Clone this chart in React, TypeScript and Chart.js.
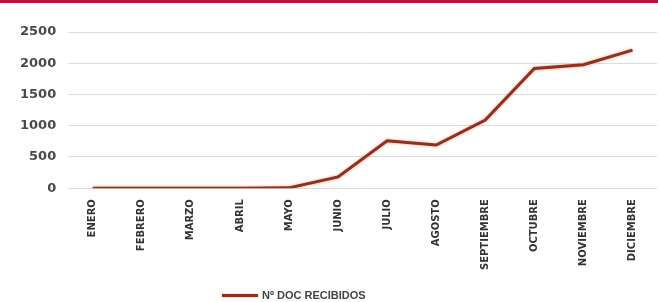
import React, { useEffect, useRef } from "react";
import { Chart, registerables } from "chart.js";

Chart.register(...registerables);

const months = [
  "ENERO", "FEBRERO", "MARZO", "ABRIL", "MAYO", "JUNIO",
  "JULIO", "AGOSTO", "SEPTIEMBRE", "OCTUBRE", "NOVIEMBRE", "DICIEMBRE",
];
const docsRecibidos = [0, 0, 0, 0, 5, 180, 760, 690, 1090, 1915, 1975, 2210];
const seriesName = "Nº DOC RECIBIDOS";
const yTicks = [0, 500, 1000, 1500, 2000, 2500];

const LINE = "#8f3020";

const haloPlugin = {
  id: "halo",
  beforeDatasetDraw(chart: any) {
    const ctx = chart.ctx;
    ctx.save();
    ctx.shadowColor = "rgba(235,130,80,0.75)";
    ctx.shadowBlur = 3;
  },
  afterDatasetDraw(chart: any) {
    chart.ctx.restore();
  },
};

export default function App() {
  const ref = useRef<HTMLCanvasElement | null>(null);
  useEffect(() => {
    document.body.style.margin = "0";
    const canvas = ref.current;
    if (!canvas) return;
    const chart = new Chart(canvas, {
      type: "line",
      data: {
        labels: months,
        datasets: [
          {
            label: seriesName,
            data: docsRecibidos,
            borderColor: LINE,
            backgroundColor: LINE,
            borderWidth: 3,
            pointRadius: 0,
            tension: 0,
          },
        ],
      },
      plugins: [haloPlugin],
      options: {
        animation: false,
        responsive: false,
        maintainAspectRatio: false,
        layout: { padding: { left: 8, right: 1, top: 29, bottom: 29 } },
        plugins: {
          tooltip: { enabled: false },
          legend: { display: false },
        },
        scales: {
          x: {
            offset: true,
            grid: { display: false },
            border: { display: false },
            ticks: {
              minRotation: 90,
              maxRotation: 90,
              padding: 3,
              color: "#333",
              font: { family: "DejaVu Sans", size: 10, weight: "bold" },
            },
          },
          y: {
            min: 0,
            max: 2500,
            afterBuildTicks: (axis: any) => {
              axis.ticks = yTicks.map((v) => ({ value: v }));
            },
            grid: { color: "#dcdcdc", lineWidth: 1, drawTicks: false },
            border: { display: false },
            ticks: {
              padding: 12,
              color: "#4a4a4a",
              callback: (v: any) => String(v),
              font: { family: "DejaVu Sans", size: 13, weight: "bold" },
            },
          },
        },
      },
    });
    return () => chart.destroy();
  }, []);
  return (
    <div style={{ position: "relative", width: 658, height: 302, background: "#fff" }}>
      <div style={{ height: 3, background: "#b5173c" }} />
      <canvas ref={ref} width={658} height={299} style={{ display: "block" }} />
      <div
        style={{
          position: "absolute",
          left: 222,
          top: 289,
          height: 12,
          display: "flex",
          alignItems: "center",
          fontFamily: "Liberation Sans",
          fontWeight: "bold",
          fontSize: 11,
          color: "#444",
          whiteSpace: "nowrap",
        }}
      >
        <span
          style={{
            display: "inline-block",
            width: 36,
            height: 3,
            background: LINE,
            marginRight: 4,
            boxShadow: "0 0 2px rgba(235,130,80,0.8)",
          }}
        />
        <span>{seriesName}</span>
      </div>
    </div>
  );
}
